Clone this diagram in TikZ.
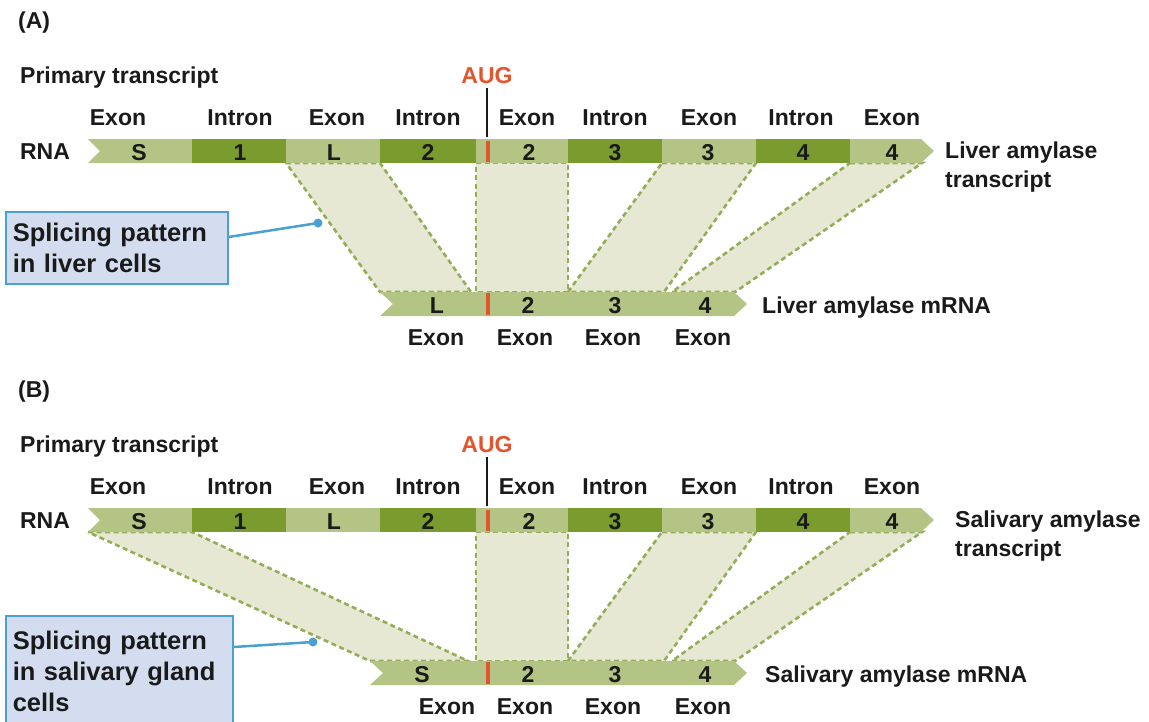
\documentclass[tikz,border=0pt]{standalone}
\usepackage{fontspec}
\setmainfont{Liberation Sans}
\usetikzlibrary{calc}
\definecolor{exonc}{HTML}{B4C484}
\definecolor{intronc}{HTML}{7A9B2E}
\definecolor{shadec}{HTML}{E6E8D3}
\definecolor{dashc}{HTML}{93AD58}
\definecolor{augc}{HTML}{E2552E}
\definecolor{boxfill}{HTML}{D4DDF0}
\definecolor{boxline}{HTML}{4AA0D0}
\definecolor{txt}{HTML}{1A1A1A}
\tikzset{
  lbl/.style={font=\fontsize{23}{27}\selectfont\bfseries, text=txt, inner sep=0pt},
  numlbl/.style={font=\fontsize{23}{27}\selectfont\bfseries, text=txt, inner sep=0pt, anchor=base},
  auglbl/.style={font=\fontsize{23}{27}\selectfont\bfseries, text=augc, inner sep=0pt},
  splice/.style={fill=shadec, draw=dashc, line width=2.6pt, dash pattern=on 5pt off 3.5pt},
  callout/.style={draw=boxline, fill=boxfill, line width=1.5pt, align=left,
    font=\fontsize{25.5}{31}\selectfont\bfseries, text=txt, inner xsep=7pt,
    anchor=north west},
  pointer/.style={draw=boxline, line width=2.5pt},
}
\newcommand\drawpanel[6]{%
  % #1 suffix, #2 mRNA start x, #3 first mRNA letter, #4 its x, #5 its exon label x, #6 panel letter
  \node[lbl, anchor=base west] (pl#1) at (18,28) {(#6)};
  \node[lbl, anchor=base west] (pt#1) at (20,83) {Primary transcript};
  \node[auglbl, anchor=base] (aug#1) at (487,83) {AUG};
  \coordinate (augtop#1) at (487,88);
  \coordinate (augbot#1) at (487,137);
  \draw[line width=2pt, txt] (augtop#1) -- (augbot#1);
  % splice bands common to both patterns
  \path[splice] (476,163) -- (568,163) -- (568,292) -- (476,292) -- cycle;
  \path[splice] (662,163) -- (756,163) -- (664,292) -- (568,292) -- cycle;
  \path[splice] (850,163) -- (922,163) -- (735,292) -- (672,292) -- cycle;
  % primary transcript bar
  \fill[exonc] (88,139) -- (192,139) -- (192,163) -- (88,163) -- (100,151) -- cycle;
  \fill[intronc] (192,139) rectangle (286,163);
  \fill[exonc] (286,139) rectangle (380,163);
  \fill[intronc] (380,139) rectangle (476,163);
  \fill[exonc] (476,139) rectangle (568,163);
  \fill[intronc] (568,139) rectangle (662,163);
  \fill[exonc] (662,139) rectangle (756,163);
  \fill[intronc] (756,139) rectangle (850,163);
  \fill[exonc] (850,139) -- (921,139) -- (934,151) -- (921,163) -- (850,163) -- cycle;
  \fill[augc] (485.5,141) rectangle (490,162);
  % labels above bar
  \node[lbl, anchor=base] (e1#1) at (118,125) {Exon};
  \node[lbl, anchor=base] (i1#1) at (240,125) {Intron};
  \node[lbl, anchor=base] (e2#1) at (337,125) {Exon};
  \node[lbl, anchor=base] (i2#1) at (428,125) {Intron};
  \node[lbl, anchor=base] (e3#1) at (527,125) {Exon};
  \node[lbl, anchor=base] (i3#1) at (615,125) {Intron};
  \node[lbl, anchor=base] (e4#1) at (709,125) {Exon};
  \node[lbl, anchor=base] (i4#1) at (801,125) {Intron};
  \node[lbl, anchor=base] (e5#1) at (892,125) {Exon};
  \node[lbl, anchor=base] (rna#1) at (45,159) {RNA};
  % labels inside bar
  \node[numlbl] (nS#1) at (139,160) {S};
  \node[numlbl] (n1#1) at (240,160) {1};
  \node[numlbl] (nL#1) at (334,160) {L};
  \node[numlbl] (n2#1) at (428,160) {2};
  \node[numlbl] (n2e#1) at (529,160) {2};
  \node[numlbl] (n3#1) at (615,160) {3};
  \node[numlbl] (n3e#1) at (708,160) {3};
  \node[numlbl] (n4#1) at (803,160) {4};
  \node[numlbl] (n4e#1) at (892,160) {4};
  % mRNA bar
  \fill[exonc] (#2,292) -- (734,292) -- (747,304) -- (734,316) -- (#2,316) -- ({#2+13},304) -- cycle;
  \fill[augc] (485.5,293) rectangle (490,315);
  \node[numlbl] (m1#1) at (#4,313) {#3};
  \node[numlbl] (m2#1) at (528,313) {2};
  \node[numlbl] (m3#1) at (615,313) {3};
  \node[numlbl] (m4#1) at (705,313) {4};
  \node[lbl, anchor=base] (me1#1) at (#5,345) {Exon};
  \node[lbl, anchor=base] (me2#1) at (525,345) {Exon};
  \node[lbl, anchor=base] (me3#1) at (613,345) {Exon};
  \node[lbl, anchor=base] (me4#1) at (703,345) {Exon};
}
\begin{document}
\begin{tikzpicture}[x=1pt, y=-1pt]
\useasboundingbox[fill=white] (0,0) rectangle (1149,721);
% ---------- Panel A ----------
\path[splice] (286,163) -- (380,163) -- (471,292) -- (380,292) -- cycle;
\drawpanel{A}{380}{L}{437}{436}{A}
\node[lbl, anchor=base west, align=left] (ltA) at (945,158) {Liver amylase};
\node[lbl, anchor=base west] (ltA2) at (945,187) {transcript};
\node[lbl, anchor=base west] (lmA) at (762,313) {Liver amylase mRNA};
\node[callout, text width=208pt, minimum height=72pt] (calloutA) at (5,211) {Splicing pattern\\in liver cells};
\coordinate (dotA) at (318,223);
\coordinate (startA) at ($(calloutA.north east)+(0,26)$);
\draw[pointer] (startA) -- (dotA);
\fill[boxline] (dotA) circle (4.5);
% ---------- Panel B ----------
\begin{scope}[yshift=-369pt]
\path[splice] (88,163) -- (192,163) -- (468,292) -- (370,292) -- cycle;
\drawpanel{B}{370}{S}{422}{447}{B}
\node[lbl, anchor=base west] (ltB) at (955,158) {Salivary amylase};
\node[lbl, anchor=base west] (ltB2) at (955,187) {transcript};
\node[lbl, anchor=base west] (lmB) at (765,313) {Salivary amylase mRNA};
\node[callout, text width=213pt, minimum height=112pt] (calloutB) at (5,246) {Splicing pattern\\in salivary gland\\cells};
\coordinate (dotB) at (313,273);
\coordinate (startB) at ($(calloutB.north east)+(0,32)$);
\draw[pointer] (startB) -- (dotB);
\fill[boxline] (dotB) circle (4.5);
\end{scope}
\end{tikzpicture}
\end{document}
